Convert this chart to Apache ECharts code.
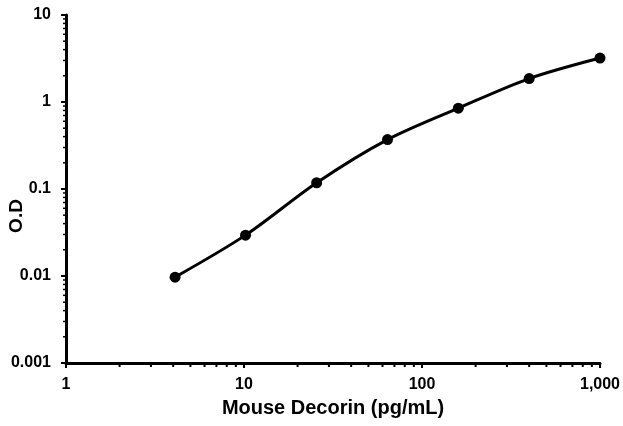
<!DOCTYPE html>
<html><head><meta charset="utf-8">
<script src="https://cdn.jsdelivr.net/npm/echarts@6/dist/echarts.min.js"></script>
<style>html,body{margin:0;padding:0;background:#fff}#c{width:623px;height:426px}</style>
</head><body><div id="c"></div>
<script>
var concentrations = [4.1, 10.2, 25.6, 64, 160, 400, 1000];
var odValues = [0.0097, 0.0295, 0.118, 0.37, 0.85, 1.86, 3.2];
var xTickLabels = {1: '1', 10: '10', 100: '100', 1000: '1,000'};
var yTickLabels = {0.001: '0.001', 0.01: '0.01', 0.1: '0.1', 1: '1', 10: '10'};
var xName = 'Mouse Decorin (pg/mL)';
var yName = 'O.D';

var xMinor = [], yMinor = [];
[1, 10, 100].forEach(function (d) { for (var k = 2; k <= 9; k++) xMinor.push(d * k); });
[0.001, 0.01, 0.1, 1].forEach(function (d) { for (var k = 2; k <= 9; k++) yMinor.push(+(d * k).toPrecision(3)); });

var chart = echarts.init(document.getElementById('c'));
var font = 'Liberation Sans, Arial, sans-serif';
chart.setOption({
  animation: false,
  backgroundColor: '#fff',
  grid: {left: 66, right: 23, top: 15, bottom: 63, containLabel: false, outerBoundsMode: 'none'},
  xAxis: {
    type: 'log', logBase: 10, min: 1, max: 1000,
    name: xName, nameLocation: 'middle', nameGap: 35, nameMoveOverlap: false,
    nameTextStyle: {fontFamily: font, fontWeight: 'bold', fontSize: 20, color: '#000'},
    axisLine: {lineStyle: {color: '#000', width: 3}},
    axisTick: {length: 5, lineStyle: {color: '#000', width: 2}},
    axisLabel: {fontFamily: font, fontWeight: 'bold', fontSize: 16, color: '#000', margin: 14,
      formatter: function (v) { return xTickLabels[Math.round(v)] || ''; }},
    splitLine: {show: false}
  },
  yAxis: {
    type: 'log', logBase: 10, min: 0.001, max: 10,
    name: yName, nameLocation: 'middle', nameGap: 40, nameMoveOverlap: false,
    nameTextStyle: {fontFamily: font, fontWeight: 'bold', fontSize: 19, color: '#000', padding: [0, 54, 0, 0]},
    axisLine: {lineStyle: {color: '#000', width: 3}},
    axisTick: {length: 5, lineStyle: {color: '#000', width: 2}},
    axisLabel: {fontFamily: font, fontWeight: 'bold', fontSize: 16, color: '#000', margin: 15,
      formatter: function (v) { var r = +v.toPrecision(1); return yTickLabels[r] || ''; }},
    splitLine: {show: false}
  },
  series: [
    {
      type: 'custom', silent: true, clip: false, z: 1,
      data: xMinor.map(function (v) { return [v, 0.001]; }),
      renderItem: function (params, api) {
        var p = api.coord([api.value(0), api.value(1)]);
        return {type: 'line', shape: {x1: p[0], y1: p[1], x2: p[0], y2: p[1] + 4}, style: {stroke: '#000', lineWidth: 2}};
      }
    },
    {
      type: 'custom', silent: true, clip: false, z: 1,
      data: yMinor.map(function (v) { return [1, v]; }),
      renderItem: function (params, api) {
        var p = api.coord([api.value(0), api.value(1)]);
        return {type: 'line', shape: {x1: p[0], y1: p[1], x2: p[0] - 3, y2: p[1]}, style: {stroke: '#000', lineWidth: 1.5}};
      }
    },
    {
      type: 'line', smooth: 0.3, z: 3,
      data: concentrations.map(function (c, i) { return [c, odValues[i]]; }),
      symbol: 'circle', symbolSize: 11,
      lineStyle: {color: '#000', width: 3},
      itemStyle: {color: '#000'}
    }
  ]
});
</script></body></html>
